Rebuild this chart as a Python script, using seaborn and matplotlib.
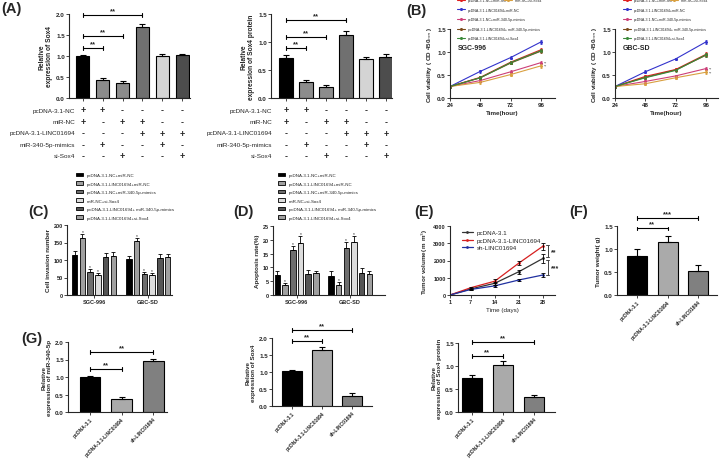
import matplotlib
matplotlib.use("Agg")
import matplotlib.pyplot as plt
import matplotlib.transforms as mtransforms
import numpy as np
import pandas as pd
import seaborn as sns

# ---- data ----
a_bars = ["NC+miR-NC", "NC+mimics", "miR-NC+si-Sox4", "LINC+miR-NC", "LINC+mimics", "LINC+si-Sox4"]
a_rows = ["pcDNA-3.1-NC", "miR-NC", "pcDNA-3.1-LINC01694", "miR-340-5p-mimics", "si-Sox4"]
a_signs = [["+", "+", "-", "-", "-", "-"],
           ["+", "-", "+", "+", "-", "-"],
           ["-", "-", "-", "+", "+", "+"],
           ["-", "+", "-", "-", "+", "-"],
           ["-", "-", "+", "-", "-", "+"]]
a_colors = ["#000000", "#8c8c8c", "#8c8c8c", "#707070", "#d4d4d4", "#4d4d4d"]
sox4_mrna = [1.00, 0.42, 0.35, 1.68, 1.01, 1.02]
sox4_mrna_err = [0.03, 0.05, 0.06, 0.08, 0.04, 0.03]
sox4_prot = [0.72, 0.28, 0.19, 1.12, 0.70, 0.73]
sox4_prot_err = [0.04, 0.05, 0.05, 0.08, 0.03, 0.05]

groups = ["pcDNA-3.1-NC+miR-NC", "pcDNA-3.1-LINC01694+miR-NC", "pcDNA-3.1-NC+miR-340-5p-mimics",
          "miR-NC+si-Sox4", "pcDNA-3.1-LINC01694+ miR-340-5p-mimics", "pcDNA-3.1-LINC01694+si-Sox4"]
group_colors = ["#000000", "#a0a0a0", "#6e6e6e", "#dcdcdc", "#555555", "#a0a0a0"]
line_colors = ["#e02020", "#3333cc", "#cc3f78", "#d9a040", "#7a4a1a", "#3a8a3a"]

hours = [24, 48, 72, 96]
sgc_viab = [[0.25, 0.45, 0.78, 1.05],
            [0.25, 0.58, 0.88, 1.22],
            [0.25, 0.38, 0.57, 0.77],
            [0.25, 0.34, 0.51, 0.70],
            [0.25, 0.44, 0.76, 1.02],
            [0.25, 0.44, 0.77, 1.03]]
gbc_viab = [[0.25, 0.47, 0.62, 0.95],
            [0.25, 0.57, 0.85, 1.22],
            [0.25, 0.36, 0.48, 0.64],
            [0.25, 0.31, 0.44, 0.56],
            [0.25, 0.45, 0.61, 0.93],
            [0.25, 0.44, 0.60, 0.94]]
viab_err = [0.01, 0.03, 0.03, 0.04]

cells = ["SGC-996", "GBC-SD"]
invasion = [[115, 104], [162, 153], [65, 60], [57, 56], [110, 107], [112, 109]]
invasion_err = [[11, 8], [12, 10], [8, 6], [6, 7], [10, 10], [10, 8]]
apoptosis = [[7.2, 7.0], [3.5, 3.8], [16.2, 17.1], [18.8, 19.1], [7.6, 7.9], [7.8, 7.5]]
apoptosis_err = [[1.4, 1.6], [0.8, 0.9], [1.6, 2.2], [2.4, 2.4], [1.3, 1.8], [1.0, 1.2]]

days = [1, 7, 14, 21, 28]
tumor_groups = ["pcDNA-3.1", "pcDNA-3.1-LINC01694", "sh-LINC01694"]
tumor_colors = ["#333333", "#d62020", "#2030a0"]
tumor_vol = [[0, 350, 680, 1350, 2120],
             [0, 420, 800, 1850, 2830],
             [0, 320, 530, 870, 1160]]
tumor_vol_err = [[0, 60, 80, 120, 250],
                 [0, 60, 100, 120, 200],
                 [0, 40, 60, 80, 100]]

three_colors = ["#000000", "#aaaaaa", "#808080"]
tumor_weight = [0.85, 1.15, 0.52]
tumor_weight_err = [0.15, 0.13, 0.13]
mir340 = [1.00, 0.37, 1.45]
mir340_err = [0.04, 0.05, 0.07]
sox4_mrna_b = [1.02, 1.65, 0.30]
sox4_mrna_b_err = [0.03, 0.10, 0.08]
sox4_prot_b = [0.75, 1.02, 0.32]
sox4_prot_b_err = [0.06, 0.09, 0.05]

# ---- figure ----
sns.set_style("ticks")
plt.rcParams["font.family"] = ["Liberation Sans", "DejaVu Sans"]
W, H = 720, 460
fig = plt.figure(figsize=(7.2, 4.6), dpi=100)


def add_ax(x0, y0, x1, y1):
    return fig.add_axes([x0 / W, 1 - y1 / H, (x1 - x0) / W, (y1 - y0) / H])


def style(ax, fs=4.5):
    sns.despine(ax=ax)
    for s in ["left", "bottom"]:
        ax.spines[s].set_linewidth(0.8)
    ax.tick_params(length=2, width=0.6, labelsize=fs, pad=1)
    for t in ax.get_yticklabels() + ax.get_xticklabels():
        t.set_fontweight("bold")


def bracket(ax, x1, x2, y, txt, d):
    kw = dict(color="black", lw=0.8, clip_on=False)
    ax.plot([x1, x2], [y, y], **kw)
    ax.plot([x1, x1], [y - d, y + d], **kw)
    ax.plot([x2, x2], [y - d, y + d], **kw)
    ax.text((x1 + x2) / 2, y + d * 0.4, txt, ha="center", va="bottom",
            fontsize=5.5, fontweight="bold")


def simple_bars(ax, names, vals, errs, colors, width):
    sns.barplot(x=names, y=vals, hue=names, palette=dict(zip(names, colors)),
                order=names, hue_order=names, width=width, edgecolor="black",
                linewidth=0.8, legend=False, ax=ax)
    x = np.arange(len(vals))
    ax.errorbar(x, vals, yerr=[np.zeros(len(errs)), errs], fmt="none",
                ecolor="black", elinewidth=0.8, capsize=2, capthick=0.8)


# ---- (A) ----
def panel_a(box, vals, errs, ylim, yticks, ylabel, brs, xlim, lab_x):
    ax = add_ax(*box)
    simple_bars(ax, a_bars, vals, errs, a_colors, 0.66)
    ax.set_ylim(*ylim)
    ax.set_yticks(yticks)
    ax.set_xlim(*xlim)
    ax.set_xticks(range(6))
    ax.set_xticklabels([])
    ax.set_ylabel(ylabel, fontsize=4.8, fontweight="bold", labelpad=2)
    style(ax)
    for x2, y in brs:
        bracket(ax, 0, x2, y, "**", ylim[1] * 0.025)
    tr = mtransforms.blended_transform_factory(ax.transData, fig.transFigure)
    row_y = [111, 123, 134, 146, 157]
    for r, (lab, signs) in enumerate(zip(a_rows, a_signs)):
        yy = 1 - row_y[r] / H
        ax.text(lab_x, yy, lab, transform=tr, ha="right", va="center", fontsize=4.6)
        for i, s in enumerate(signs):
            ax.text(i, yy, s, transform=tr, ha="center", va="center", fontsize=6.5,
                    fontweight="bold")
    return ax


panel_a((69, 15, 190, 99), sox4_mrna, sox4_mrna_err, (0, 2.0), [0, 0.5, 1.0, 1.5, 2.0],
        "Relative\nexpression of Sox4", [(1, 1.19), (2, 1.47), (3, 1.98)], (-0.7, 5.4), -0.4)
panel_a((271, 15, 392, 99), sox4_prot, sox4_prot_err, (0, 1.5), [0, 0.5, 1.0, 1.5],
        "Relative\nexpression of Sox4 protein", [(1, 0.89), (2, 1.09), (3, 1.39)], (-0.75, 5.3),
        -0.7)


# ---- (B) ----
def panel_b(box, data, title, xmax, leg_x):
    ax = add_ax(*box)
    rows = []
    for g, vals in zip(groups, data):
        for t, v in zip(hours, vals):
            rows.append({"time": t, "value": v, "group": g})
    df = pd.DataFrame(rows)
    pal = dict(zip(groups, line_colors))
    sns.lineplot(data=df, x="time", y="value", hue="group", hue_order=groups, palette=pal,
                 marker="o", markersize=2.2, markeredgewidth=0, linewidth=0.8, ax=ax,
                 legend=True)
    for g, vals in zip(groups, data):
        ax.errorbar(hours, vals, yerr=viab_err, fmt="none", ecolor=pal[g], elinewidth=0.6,
                    capsize=1, capthick=0.6)
    for vals in data[2:4]:
        ax.text(98, vals[-1], "**", fontsize=3, va="center", color="#444444")
    handles, labels = ax.get_legend_handles_labels()
    ax.get_legend().remove()
    order1 = [0, 1, 2, 4, 5]
    fig.legend([handles[i] for i in order1], [labels[i] for i in order1],
               loc="upper left", bbox_to_anchor=(leg_x / W, 1 + 1 / H), frameon=False,
               fontsize=2.6, handlelength=2.2, handletextpad=0.8, labelspacing=1.55,
               borderpad=0, borderaxespad=0)
    fig.legend([handles[3]], [labels[3]], loc="upper left",
               bbox_to_anchor=((leg_x + 47) / W, 1 + 1 / H), frameon=False,
               fontsize=2.6, handlelength=2.2, handletextpad=0.8, borderpad=0, borderaxespad=0)
    ax.set_xlim(24, xmax)
    ax.set_ylim(0, 1.5)
    ax.set_xticks(hours)
    ax.set_yticks([0, 0.5, 1.0, 1.5])
    ax.set_xlabel("Time(hour)", fontsize=4.5, fontweight="bold", labelpad=2)
    ax.set_ylabel("Cell viability ( OD 450$_{nm}$ )", fontsize=4.5, fontweight="bold",
                  labelpad=2)
    ax.text(30.5, 1.09, title, fontsize=5, fontweight="bold", va="center")
    style(ax)


panel_b((450, 30, 555, 99), sgc_viab, "SGC-996", 107, 457)
panel_b((615, 30, 718, 99), gbc_viab, "GBC-SD", 105.5, 623)


# ---- (C) and (D) ----
def panel_cd(box, vals, errs, ylim, yticks, ylabel, xlim, leg_x):
    ax = add_ax(*box)
    rows = []
    for g, v in zip(groups, vals):
        for c, vv in zip(cells, v):
            rows.append({"cell": c, "value": vv, "group": g})
    df = pd.DataFrame(rows)
    sns.barplot(data=df, x="cell", y="value", hue="group", hue_order=groups,
                palette=group_colors, width=0.86, gap=0.28, edgecolor="black",
                linewidth=0.6, legend=True, ax=ax)
    for cont, e, g in zip(ax.containers, errs, groups):
        xs = [b.get_x() + b.get_width() / 2 for b in cont]
        hs = [b.get_height() for b in cont]
        ax.errorbar(xs, hs, yerr=[[0, 0], e], fmt="none", ecolor="black", elinewidth=0.6,
                    capsize=1.2, capthick=0.6)
        if g in groups[1:4]:
            for x, h, ee in zip(xs, hs, e):
                ax.text(x, h + ee, "*", ha="center", va="bottom", fontsize=3.5)
    handles, labels = ax.get_legend_handles_labels()
    ax.get_legend().remove()
    fig.legend(handles, labels, loc="upper left", bbox_to_anchor=(leg_x / W, 1 - 174 / H),
               frameon=False, fontsize=3.2, handlelength=1.6, handleheight=0.8,
               handletextpad=0.9, labelspacing=0.95, borderpad=0, borderaxespad=0)
    ax.set_ylim(*ylim)
    ax.set_yticks(yticks)
    ax.set_xlim(*xlim)
    ax.set_xlabel("")
    ax.set_ylabel(ylabel, fontsize=4.5, fontweight="bold", labelpad=2)
    style(ax, 4)


panel_cd((67, 226, 172, 296), invasion, invasion_err, (0, 200), [0, 50, 100, 150, 200],
         "Cell invasion number", (-0.5, 1.44), 76)
panel_cd((273, 227, 385, 296), apoptosis, apoptosis_err, (0, 25), [0, 5, 10, 15, 20, 25],
         "Apoptosis rate(%)", (-0.44, 1.65), 278)

# ---- (E) ----
ax = add_ax(450, 227, 555, 296)
rows = []
for g, vals in zip(tumor_groups, tumor_vol):
    for d, v in zip(days, vals):
        rows.append({"day": d, "value": v, "group": g})
df_e = pd.DataFrame(rows)
pal_e = dict(zip(tumor_groups, tumor_colors))
sns.lineplot(data=df_e, x="day", y="value", hue="group", hue_order=tumor_groups, palette=pal_e,
             marker="o", markersize=2, markeredgewidth=0, linewidth=0.9, ax=ax)
for g, vals, e in zip(tumor_groups, tumor_vol, tumor_vol_err):
    ax.errorbar(days, vals, yerr=e, fmt="none", ecolor="black", elinewidth=0.6, capsize=1.2,
                capthick=0.6)
ax.legend(loc="upper left", bbox_to_anchor=(0.08, 0.99), frameon=False, fontsize=4.5,
          handlelength=1.8, handletextpad=0.6, labelspacing=0.35, borderpad=0)
ax.set_xlim(1, 31.5)
ax.set_ylim(0, 4000)
ax.set_xticks([1, 7, 14, 21, 28])
ax.set_yticks([0, 1000, 2000, 3000, 4000])
ax.set_xlabel("Time (days)", fontsize=4.5, labelpad=2)
ax.set_ylabel("Tumor volume( m m$^3$)", fontsize=4.5, fontweight="bold", labelpad=2)
style(ax, 4)
for y1, y2, txt in [(2180, 2880, "**"), (1150, 2050, "***")]:
    ax.plot([29.4, 29.4], [y1, y2], color="#444444", lw=0.7, clip_on=False)
    ax.plot([29.0, 29.8], [y1, y1], color="#444444", lw=0.7, clip_on=False)
    ax.plot([29.0, 29.8], [y2, y2], color="#444444", lw=0.7, clip_on=False)
    ax.text(30.2, (y1 + y2) / 2, txt, fontsize=5, fontweight="bold", va="center")


# ---- (F), (G) and the two lower panels ----
def panel_three(box, vals, errs, ylim, yticks, ylabel, xlim, brs, yl_fs=4.5):
    ax = add_ax(*box)
    simple_bars(ax, tumor_groups, vals, errs, three_colors, 0.66)
    ax.set_ylim(*ylim)
    ax.set_yticks(yticks)
    ax.set_xlim(*xlim)
    ax.set_ylabel(ylabel, fontsize=yl_fs, fontweight="bold", labelpad=2)
    style(ax)
    ax.set_xticks(range(3))
    ax.set_xticklabels(tumor_groups, rotation=45, ha="right", rotation_mode="anchor",
                       fontsize=3.6, fontweight="bold")
    for x2, y, txt in brs:
        bracket(ax, 0, x2, y, txt, ylim[1] * 0.025)
    return ax


panel_three((617, 227, 717, 296), tumor_weight, tumor_weight_err, (0, 1.5), [0, 0.5, 1.0, 1.5],
            "Tumor weight( g)", (-0.66, 2.62), [(1, 1.45, "**"), (2, 1.67, "***")])
panel_three((68, 343, 167, 413), mir340, mir340_err, (0, 2.0), [0, 0.5, 1.0, 1.5, 2.0],
            "Relative\nexpression of miR-340-5p", (-0.7, 2.44), [(1, 1.23, "**"), (2, 1.71, "**")])
panel_three((272, 339, 372, 407), sox4_mrna_b, sox4_mrna_b_err, (0, 2.0), [0, 0.5, 1.0, 1.5, 2.0],
            "Relative\nexpression of Sox4", (-0.67, 2.67), [(1, 1.91, "**"), (2, 2.24, "**")])
panel_three((458, 344, 555, 413), sox4_prot_b, sox4_prot_b_err, (0, 1.5), [0, 0.5, 1.0, 1.5],
            "Relative\nexpression of Sox4 protein", (-0.45, 2.68), [(1, 1.22, "**"), (2, 1.52, "**")])

# panel letters
for lab, x, y in [("(A)", 1, 9), ("(B)", 406, 11), ("(C)", 28, 212), ("(D)", 233, 212),
                  ("(E)", 414, 212), ("(F)", 569, 212), ("(G)", 21, 339)]:
    fig.text(x / W, 1 - y / H, lab, fontsize=10.5, fontweight="bold", va="center")

fig.savefig("out.png", dpi=100)
